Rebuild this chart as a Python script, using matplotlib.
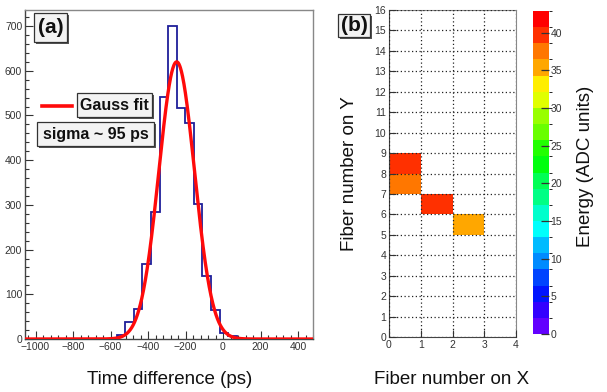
import numpy as np
import colorsys
import matplotlib
matplotlib.use("Agg")
import matplotlib.pyplot as plt
from matplotlib.colors import ListedColormap, BoundaryNorm
from matplotlib.patches import Rectangle
from matplotlib.ticker import MultipleLocator

plt.rcParams['font.family'] = ['Liberation Sans', 'DejaVu Sans']

# ---------------- data ----------------
# panel (a): time-difference histogram
hist_first_edge = -567.0      # ps
hist_bin_width = 45.7         # ps
hist_counts = [8, 38, 67, 168, 284, 541, 700, 516, 483, 302, 141, 65, 13, 6]
# Gauss fit parameters
fit_amplitude = 620.0
fit_mean = -247.0
fit_sigma = 95.0
time_xlim = (-1056, 480)
count_ylim = (0, 736)

# panel (b): fiber hit map
cell_x = [0, 0, 1, 2]
cell_y = [8, 7, 6, 5]
cell_energy = [39.8, 37.5, 40.5, 35.5]
n_fiber_x = 4
n_fiber_y = 16
energy_max = 42.9
n_levels = 20

# ---------------- figure ----------------
W, H = 607, 392
fig = plt.figure(figsize=(W / 100, H / 100), dpi=100)


def frect(x0, y0, x1, y1):
    """pixel box (top-left origin) -> figure fraction [l, b, w, h]"""
    return [x0 / W, 1 - y1 / H, (x1 - x0) / W, (y1 - y0) / H]


def fx(x):
    return x / W


def fy(y):
    return 1 - y / H


tick_col = '#333333'

# ---------- panel (a) ----------
ax = fig.add_axes(frect(25, 10, 313, 339))
edges = hist_first_edge + hist_bin_width * np.arange(len(hist_counts) + 1)
ax.stairs(hist_counts, edges, color='#1f1f9a', lw=1.3, zorder=2)
xf = np.linspace(time_xlim[0], time_xlim[1], 800)
yf = fit_amplitude * np.exp(-0.5 * ((xf - fit_mean) / fit_sigma) ** 2)
ax.plot(xf, yf, color='#ff0a0a', lw=2.4, zorder=3, solid_capstyle='butt')
ax.set_xlim(*time_xlim)
ax.set_ylim(*count_ylim)
ax.xaxis.set_major_locator(MultipleLocator(200))
ax.xaxis.set_minor_locator(MultipleLocator(40))
ax.yaxis.set_major_locator(MultipleLocator(100))
ax.yaxis.set_minor_locator(MultipleLocator(20))
ax.tick_params(which='both', direction='in', colors=tick_col, labelsize=7.5,
               top=False, right=False, width=0.8)
ax.tick_params(which='major', length=6, pad=2)
ax.tick_params(which='minor', length=3)
for s in ('top', 'right'):
    ax.spines[s].set_color('#888888')
for s in ('left', 'bottom'):
    ax.spines[s].set_color('#444444')
for s in ax.spines.values():
    s.set_linewidth(1.0)

# ---------- panel (b) ----------
colors = []
for i in range(n_levels):
    idx = int((i + 0.99) * 50 / n_levels)
    hue = 280 - (idx + 1) * 280 / 50
    colors.append(colorsys.hls_to_rgb(max(hue, 0) / 360.0, 0.5, 1.0))
cmap = ListedColormap(colors)
bounds = np.linspace(0, energy_max, n_levels + 1)
norm = BoundaryNorm(bounds, cmap.N)

grid = np.full((n_fiber_y, n_fiber_x), np.nan)
for cx, cy, e in zip(cell_x, cell_y, cell_energy):
    grid[cy, cx] = e
grid = np.ma.masked_invalid(grid)

bx = fig.add_axes(frect(389, 10, 516, 337))
mesh = bx.pcolormesh(np.arange(n_fiber_x + 1), np.arange(n_fiber_y + 1), grid,
                     cmap=cmap, norm=norm, zorder=1)
bx.set_xlim(0, n_fiber_x)
bx.set_ylim(0, n_fiber_y)
bx.set_xticks(range(n_fiber_x + 1))
bx.set_yticks(range(n_fiber_y + 1))
bx.set_axisbelow(False)
bx.grid(True, color='#222222', linestyle=(0, (1, 2)), linewidth=0.9)
bx.tick_params(which='both', direction='in', colors=tick_col, labelsize=7.5,
               top=False, right=False, length=5, width=0.8, pad=2)
for s in ('top', 'right'):
    bx.spines[s].set_color('#888888')
for s in ('left', 'bottom'):
    bx.spines[s].set_color('#444444')

cax = fig.add_axes(frect(533, 11, 549, 334))
cb = fig.colorbar(mesh, cax=cax, boundaries=bounds, ticks=range(0, 41, 5),
                  drawedges=False)
cb.outline.set_visible(False)
cax.tick_params(direction='in', length=6, width=0.9, colors=tick_col,
                labelsize=7.5, pad=1)

# ---------- labels ----------
fig.text(fx(170), fy(379), 'Time difference (ps)', ha='center', va='center',
         fontsize=13.5, color='#111111')
fig.text(fx(452), fy(380), 'Fiber number on X', ha='center', va='center',
         fontsize=13.5, color='#111111')
fig.text(fx(350), fy(174), 'Fiber number on Y', ha='center', va='center',
         rotation=90, fontsize=13.5, color='#111111')
fig.text(fx(585), fy(166), 'Energy (ADC units)', ha='center', va='center',
         rotation=90, fontsize=13.5, color='#111111')


def pave(x0, y0, x1, y1, text, size):
    sh = 2.0
    fig.add_artist(Rectangle((fx(x0 + sh), fy(y1 + sh)), (x1 - x0) / W, (y1 - y0) / H,
                             transform=fig.transFigure, facecolor='#555555',
                             edgecolor='none', zorder=9))
    fig.add_artist(Rectangle((fx(x0), fy(y1)), (x1 - x0) / W, (y1 - y0) / H,
                             transform=fig.transFigure, facecolor='#f3f3f3',
                             edgecolor='#333333', lw=0.9, zorder=10))
    fig.text(fx((x0 + x1) / 2), fy((y0 + y1) / 2), text, ha='center', va='center',
             fontsize=size, fontweight='bold', color='#111111', zorder=11)


pave(34, 13, 67, 42, '(a)', 15)
pave(77, 93, 152, 117, 'Gauss fit', 11.5)
pave(37, 122, 154, 146, 'sigma ~ 95 ps', 11.5)
pave(338, 14, 370, 37, '(b)', 15)

fig.add_artist(plt.Line2D([fx(42), fx(72)], [fy(106), fy(106)], color='#ff0a0a',
                          lw=2.6, transform=fig.transFigure, zorder=10))

fig.savefig('out.png', dpi=100)
